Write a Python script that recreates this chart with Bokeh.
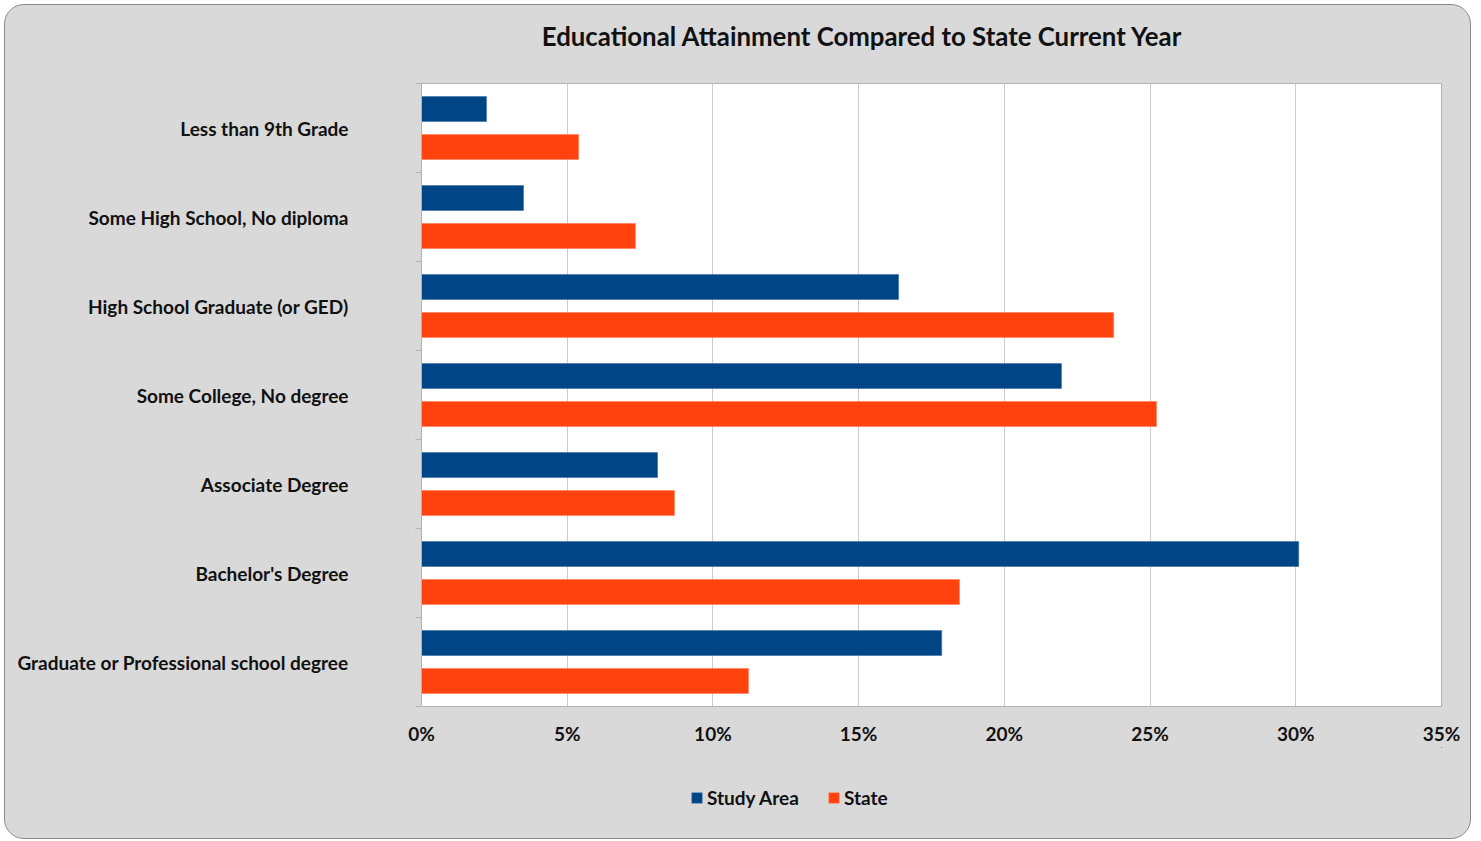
from bokeh.plotting import figure
from bokeh.layouts import column
from bokeh.models import (ColumnDataSource, Range1d, FixedTicker, Label,
                          Legend, LegendItem, PrintfTickFormatter)
from bokeh.transform import dodge
from bokeh.embed import file_html
from bokeh.resources import INLINE

categories = ["Less than 9th Grade", "Some High School, No diploma", "High School Graduate (or GED)",
              "Some College, No degree", "Associate Degree", "Bachelor's Degree",
              "Graduate or Professional school degree"]
study_area = [2.23, 3.5, 16.37, 21.96, 8.1, 30.1, 17.85]
state = [5.39, 7.34, 23.75, 25.22, 8.68, 18.46, 11.22]
x_ticks = [0, 5, 10, 15, 20, 25, 30, 35]
title_text = "Educational Attainment Compared to State Current Year"
series_names = ["Study Area", "State"]
series_colors = ["#004586", "#ff420e"]
edge_colors = ["#3a6fa3", "#ff7a55"]

FONT = "Lato"
TXT = "#111111"
GRAY = "#b3b3b3"
W = 1465

ypos = [i + 0.5 for i in range(len(categories))]
src = ColumnDataSource(dict(y=ypos, study=study_area, state=state))

# ---------- title strip (frame is aligned with the chart frame by the column) ----------
p0 = figure(width=W, height=70, output_backend="svg", toolbar_location=None,
            x_axis_type=None, y_axis_type=None, x_range=Range1d(0, 1), y_range=Range1d(0, 1),
            min_border_left=416, min_border_right=29, min_border_top=0, min_border_bottom=0,
            background_fill_color=None, border_fill_color=None, outline_line_color=None)
p0.xgrid.visible = False
p0.ygrid.visible = False
p0.add_layout(Label(x=441, y=40, x_units="screen", y_units="screen", text=title_text,
                    text_font=FONT, text_font_style="bold", text_font_size="25.8px",
                    text_color=TXT, text_align="center", text_baseline="middle"))

# ---------- main chart ----------
p = figure(width=W, height=672, output_backend="svg", toolbar_location=None,
           x_range=Range1d(0, 35), y_range=Range1d(len(categories), 0),
           min_border_left=416, min_border_top=8, min_border_right=29, min_border_bottom=40,
           background_fill_color="white", border_fill_color=None,
           outline_line_color=GRAY, outline_line_width=1)

r1 = p.hbar(y=dodge("y", -0.213, range=p.y_range), right="study", left=0, height=0.28, source=src,
            fill_color=series_colors[0], line_color=edge_colors[0], line_width=0.6)
r2 = p.hbar(y=dodge("y", 0.213, range=p.y_range), right="state", left=0, height=0.28, source=src,
            fill_color=series_colors[1], line_color=edge_colors[1], line_width=0.6)

p.xaxis.ticker = FixedTicker(ticks=x_ticks)
p.xaxis.formatter = PrintfTickFormatter(format="%d%%")
p.xaxis.major_tick_line_color = None
p.xaxis.minor_tick_line_color = None
p.xaxis.axis_line_color = None
p.xaxis.major_label_standoff = 9
p.xaxis.major_label_text_font = FONT
p.xaxis.major_label_text_font_style = "bold"
p.xaxis.major_label_text_font_size = "19px"
p.xaxis.major_label_text_color = TXT

p.yaxis.ticker = FixedTicker(ticks=ypos, minor_ticks=list(range(len(categories) + 1)))
p.yaxis.major_label_overrides = {v: c for v, c in zip(ypos, categories)}
p.yaxis.major_tick_line_color = None
p.yaxis.major_tick_out = 0
p.yaxis.minor_tick_out = 6
p.yaxis.minor_tick_in = 0
p.yaxis.minor_tick_line_color = GRAY
p.yaxis.axis_line_color = GRAY
p.yaxis.major_label_standoff = 67
p.yaxis.major_label_text_font = FONT
p.yaxis.major_label_text_font_style = "bold"
p.yaxis.major_label_text_font_size = "19px"
p.yaxis.major_label_text_color = TXT

p.xgrid.ticker = FixedTicker(ticks=x_ticks)
p.xgrid.grid_line_color = "#cccccc"
p.ygrid.grid_line_color = None

# ---------- legend strip (legend proxies use the same data, kept outside this strip's view) ----------
p2 = figure(width=W, height=91, output_backend="svg", toolbar_location=None,
            x_axis_type=None, y_axis_type=None, x_range=Range1d(-2, -1), y_range=Range1d(-20, -10),
            min_border_left=416, min_border_right=29, min_border_top=0, min_border_bottom=0,
            background_fill_color=None, border_fill_color=None, outline_line_color=None)
p2.xgrid.visible = False
p2.ygrid.visible = False
k1 = p2.hbar(y="y", right="study", left=0, height=0.28, source=src,
             fill_color=series_colors[0], line_color=edge_colors[0], line_width=0.6)
k2 = p2.hbar(y="y", right="state", left=0, height=0.28, source=src,
             fill_color=series_colors[1], line_color=edge_colors[1], line_width=0.6)
legend = Legend(items=[LegendItem(label=series_names[0], renderers=[k1]),
                       LegendItem(label=series_names[1], renderers=[k2])],
                orientation="horizontal", location=(269, 29), margin=0, padding=0,
                glyph_width=13, glyph_height=13, label_standoff=4, spacing=28,
                label_text_font=FONT, label_text_font_style="bold", label_text_font_size="19px",
                label_text_color=TXT, background_fill_alpha=0, border_line_color=None)
p2.add_layout(legend, "center")

layout = column(p0, p, p2, spacing=0,
                styles={"background-color": "#d9d9d9", "border-radius": "20px",
                        "border": "1.5px solid #8a8a8a", "margin": "4px 0 0 4px"})

open("out.html", "w").write(file_html(layout, INLINE))
